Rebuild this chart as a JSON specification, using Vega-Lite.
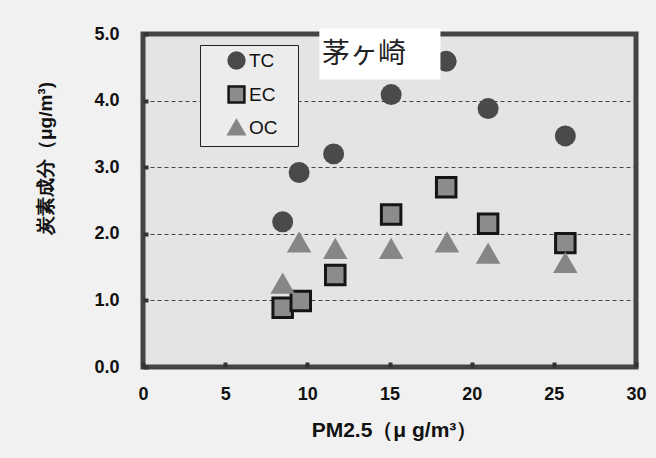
{
  "$schema": "https://vega.github.io/schema/vega-lite/v6.json",
  "autosize": "none",
  "width": 493,
  "height": 333,
  "padding": {"left": 143, "top": 34, "right": 20, "bottom": 91},
  "background": "#f1f1f1",
  "config": {
    "view": {"fill": "#e4e4e4", "stroke": "#444444", "strokeWidth": 5},
    "font": "Liberation Sans",
    "legend": {
      "title": null, "orient": "none", "legendX": 57, "legendY": 11,
      "fillColor": "#ececec", "strokeColor": "#222", "padding": 6,
      "rowPadding": 7, "symbolOffset": 21, "labelOffset": 3,
      "labelFontSize": 19, "labelColor": "#111", "symbolSize": 250,
      "symbolStrokeWidth": 2.5, "symbolOpacity": 1
    }
  },
  "datasets": {
    "carbon": [
      {"pm": 8.5, "value": 2.18, "component": "TC"},
      {"pm": 9.5, "value": 2.92, "component": "TC"},
      {"pm": 11.6, "value": 3.2, "component": "TC"},
      {"pm": 15.1, "value": 4.09, "component": "TC"},
      {"pm": 18.45, "value": 4.59, "component": "TC"},
      {"pm": 21.0, "value": 3.88, "component": "TC"},
      {"pm": 25.7, "value": 3.47, "component": "TC"},
      {"pm": 8.5, "value": 0.89, "component": "EC"},
      {"pm": 9.6, "value": 0.99, "component": "EC"},
      {"pm": 11.7, "value": 1.38, "component": "EC"},
      {"pm": 15.1, "value": 2.29, "component": "EC"},
      {"pm": 18.45, "value": 2.7, "component": "EC"},
      {"pm": 21.0, "value": 2.15, "component": "EC"},
      {"pm": 25.7, "value": 1.86, "component": "EC"},
      {"pm": 8.5, "value": 1.26, "component": "OC"},
      {"pm": 9.5, "value": 1.88, "component": "OC"},
      {"pm": 11.7, "value": 1.78, "component": "OC"},
      {"pm": 15.1, "value": 1.78, "component": "OC"},
      {"pm": 18.5, "value": 1.88, "component": "OC"},
      {"pm": 21.0, "value": 1.71, "component": "OC"},
      {"pm": 25.7, "value": 1.57, "component": "OC"}
    ],
    "label": [
      {"text": "茅ヶ崎", "x1": 10.73, "x2": 18.1, "y1": 4.316, "y2": 5.083, "tx": 10.9, "ty": 4.69}
    ]
  },
  "layer": [
    {
      "data": {"name": "carbon"},
      "mark": {"type": "point", "filled": true, "opacity": 1},
      "encoding": {
        "x": {
          "field": "pm", "type": "quantitative",
          "scale": {"domain": [0, 30], "nice": false, "zero": false},
          "axis": {
            "values": [0, 5, 10, 15, 20, 25, 30],
            "title": "PM2.5（μ g/m³）",
            "titleFontSize": 21, "titleFontWeight": "bold", "titleColor": "#111",
            "titleX": 251, "titleAlign": "center",
            "titlePadding": 16,
            "labelFontSize": 18, "labelFontWeight": "bold", "labelColor": "#111",
            "labelPadding": 23,
            "tickSize": -5, "tickWidth": 4, "tickColor": "#333",
            "domain": false, "grid": false, "labelFlush": false
          }
        },
        "y": {
          "field": "value", "type": "quantitative",
          "scale": {"domain": [0, 5], "nice": false},
          "axis": {
            "values": [0, 1, 2, 3, 4, 5],
            "format": ".1f",
            "title": "炭素成分（μg/m³)",
            "titleFontSize": 19, "titleFontWeight": "bold", "titleColor": "#111",
            "titleAngle": -90, "titleAlign": "center", "titleBaseline": "middle",
            "titleX": -98, "titleY": 124,
            "labelFontSize": 18, "labelFontWeight": "bold", "labelColor": "#111",
            "labelPadding": 29,
            "tickSize": -5, "tickWidth": 4, "tickColor": "#333",
            "domain": false,
            "grid": true, "gridColor": "#444", "gridDash": [4, 3], "gridWidth": 1
          }
        },
        "shape": {
          "field": "component", "type": "nominal",
          "scale": {"domain": ["TC", "EC", "OC"], "range": ["circle", "square", "triangle-up"]},
          "legend": {"labelExpr": "datum.label + '\u2800'"}
        },
        "fill": {
          "field": "component", "type": "nominal",
          "scale": {"domain": ["TC", "EC", "OC"], "range": ["#4a4a4a", "#8c8c8c", "#868686"]},
          "legend": {"labelExpr": "datum.label + '\u2800'"}
        },
        "stroke": {
          "field": "component", "type": "nominal",
          "scale": {"domain": ["TC", "EC", "OC"], "range": ["#4a4a4a", "#151515", "#868686"]},
          "legend": {"labelExpr": "datum.label + '\u2800'"}
        },
        "size": {
          "condition": [
            {"test": "datum.component === 'TC'", "value": 440},
            {"test": "datum.component === 'EC'", "value": 380}
          ],
          "value": 600
        },
        "strokeWidth": {
          "condition": {"test": "datum.component === 'EC'", "value": 3},
          "value": 0
        }
      }
    },
    {
      "data": {"name": "label"},
      "mark": {"type": "rect", "fill": "#ffffff", "clip": false},
      "encoding": {
        "x": {"field": "x1", "type": "quantitative"},
        "x2": {"field": "x2"},
        "y": {"field": "y1", "type": "quantitative"},
        "y2": {"field": "y2"}
      }
    },
    {
      "data": {"name": "label"},
      "mark": {"type": "text", "font": "Noto Sans CJK JP", "fontSize": 28, "fontWeight": "normal", "align": "left", "baseline": "middle", "color": "#222"},
      "encoding": {
        "x": {"field": "tx", "type": "quantitative"},
        "y": {"field": "ty", "type": "quantitative"},
        "text": {"field": "text"}
      }
    }
  ]
}
